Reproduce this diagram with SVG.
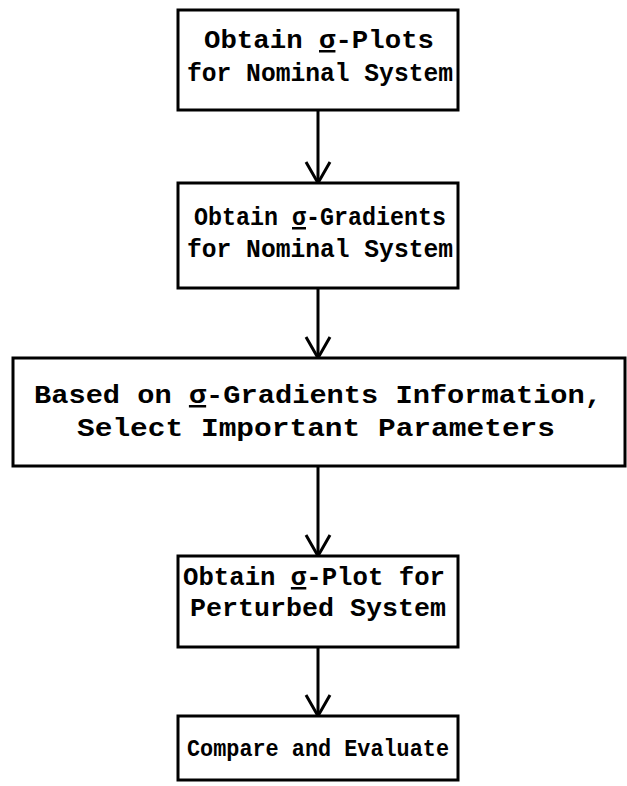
<svg xmlns="http://www.w3.org/2000/svg" width="627" height="786" viewBox="0 0 627 786">
<style>
.box{fill:#fff;stroke:#000;stroke-width:3}
.t{font-family:"Liberation Mono","DejaVu Sans Mono",monospace;font-weight:bold;font-size:25px;fill:#000;text-anchor:middle}
.u{text-decoration:underline}
.c{stroke:#000;stroke-width:3;fill:none}
</style>
<defs>
<marker id="v" markerUnits="userSpaceOnUse" markerWidth="30" markerHeight="30" refX="26" refY="15" orient="auto" viewBox="0 0 30 30">
<path d="M5,3 L26,15 L5,27" fill="none" stroke="#000" stroke-width="3"/>
</marker>
</defs>
<rect width="627" height="786" fill="#fff"/>
<g id="connectors">
<line class="c" x1="318" y1="110" x2="318" y2="183" marker-end="url(#v)"/>
<line class="c" x1="318" y1="288" x2="318" y2="358" marker-end="url(#v)"/>
<line class="c" x1="318" y1="466" x2="318" y2="556" marker-end="url(#v)"/>
<line class="c" x1="318" y1="647" x2="318" y2="716" marker-end="url(#v)"/>
</g>
<g id="n1">
<rect class="box" x="178" y="10" width="280" height="100"/>
<text class="t" x="319" y="48" textLength="230" lengthAdjust="spacingAndGlyphs">Obtain <tspan class="u">σ</tspan>-Plots</text>
<text class="t" x="320" y="81" textLength="266" lengthAdjust="spacingAndGlyphs">for Nominal System</text>
</g>
<g id="n2">
<rect class="box" x="178" y="183" width="280" height="105"/>
<text class="t" x="320" y="225" textLength="252" lengthAdjust="spacingAndGlyphs">Obtain <tspan class="u">σ</tspan>-Gradients</text>
<text class="t" x="320" y="257" textLength="266" lengthAdjust="spacingAndGlyphs">for Nominal System</text>
</g>
<g id="n3">
<rect class="box" x="13" y="358" width="612" height="108"/>
<text class="t" x="318" y="403" textLength="568" lengthAdjust="spacingAndGlyphs">Based on <tspan class="u">σ</tspan>-Gradients Information,</text>
<text class="t" x="316" y="436" textLength="478" lengthAdjust="spacingAndGlyphs">Select Important Parameters</text>
</g>
<g id="n4">
<rect class="box" x="178" y="556" width="280" height="91"/>
<text class="t" x="314" y="585" textLength="262" lengthAdjust="spacingAndGlyphs">Obtain <tspan class="u">σ</tspan>-Plot for</text>
<text class="t" x="318" y="616" textLength="256" lengthAdjust="spacingAndGlyphs">Perturbed System</text>
</g>
<g id="n5">
<rect class="box" x="178" y="716" width="280" height="64"/>
<text class="t" x="318" y="756" style="font-size:24px" textLength="262" lengthAdjust="spacingAndGlyphs">Compare and Evaluate</text>
</g>
</svg>
